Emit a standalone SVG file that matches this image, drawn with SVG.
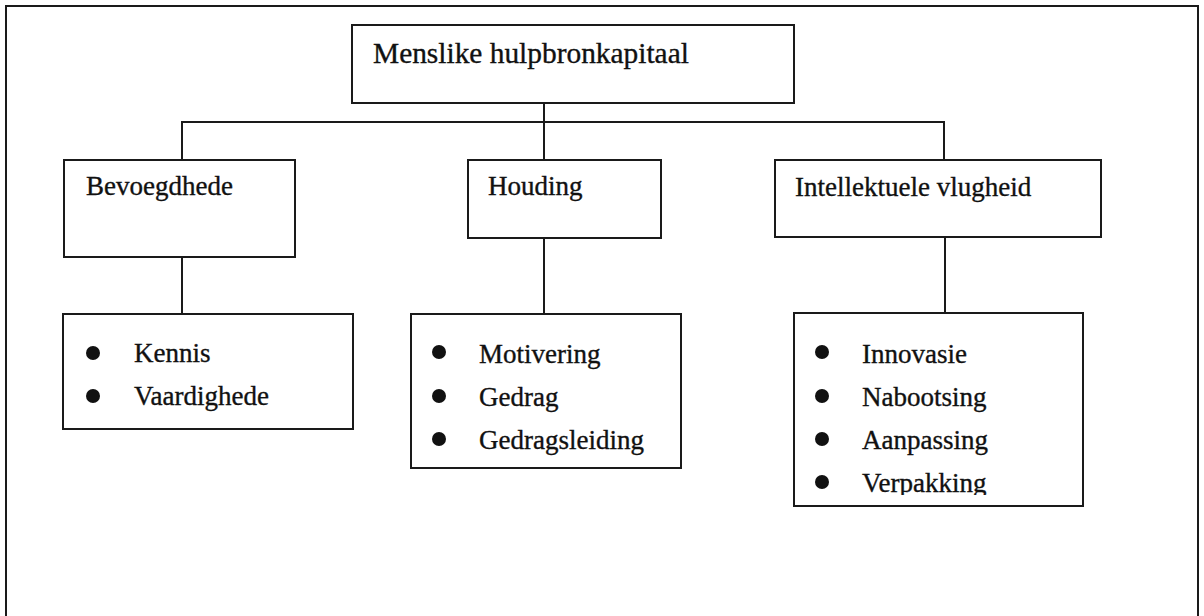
<svg xmlns="http://www.w3.org/2000/svg" width="1204" height="616" viewBox="0 0 1204 616">
  <style>
    .box { fill: #fff; stroke: #1a1a1a; stroke-width: 2; }
    .frame { fill: none; stroke: #1a1a1a; stroke-width: 2; }
    .link { fill: none; stroke: #1a1a1a; stroke-width: 2; }
    .lbl { font-family: "Liberation Serif", "Times New Roman", serif; font-size: 27px; fill: #111; stroke: #111; stroke-width: 0.35; }
    .title { font-family: "Liberation Serif", "Times New Roman", serif; font-size: 29.4px; fill: #111; stroke: #111; stroke-width: 0.35; }
    .dot { fill: #111; }
  </style>
  <defs>
    <clipPath id="clipList3">
      <rect x="795" y="314" width="287" height="181"/>
    </clipPath>
  </defs>
  <rect width="1204" height="616" fill="#fff"/>

  <!-- outer frame, open at the bottom -->
  <path class="frame" d="M6,616 V6 H1198 V616"/>

  <!-- connectors -->
  <g id="connectors">
    <path class="link" d="M544,103 V160"/>
    <path class="link" d="M182,160 V122 H944 V160"/>
    <path class="link" d="M182,257 V314"/>
    <path class="link" d="M544,238 V314"/>
    <path class="link" d="M945,237 V313"/>
  </g>

  <g id="root">
    <rect class="box" x="352" y="25" width="442" height="78"/>
    <text class="title" x="373" y="63">Menslike hulpbronkapitaal</text>
  </g>

  <g id="bevoegdhede">
    <rect class="box" x="64" y="160" width="231" height="97"/>
    <text class="lbl" x="86" y="195">Bevoegdhede</text>
  </g>

  <g id="houding">
    <rect class="box" x="468" y="160" width="193" height="78"/>
    <text class="lbl" x="488" y="195">Houding</text>
  </g>

  <g id="intellektuele-vlugheid">
    <rect class="box" x="775" y="160" width="326" height="77"/>
    <text class="lbl" x="795" y="196">Intellektuele vlugheid</text>
  </g>

  <g id="list-bevoegdhede">
    <rect class="box" x="63" y="314" width="290" height="115"/>
    <circle class="dot" cx="93" cy="353" r="7"/>
    <circle class="dot" cx="93" cy="396" r="7"/>
    <text class="lbl" x="134" y="362">Kennis</text>
    <text class="lbl" x="134" y="405">Vaardighede</text>
  </g>

  <g id="list-houding">
    <rect class="box" x="411" y="314" width="270" height="154"/>
    <circle class="dot" cx="439" cy="352" r="7"/>
    <circle class="dot" cx="439" cy="396" r="7"/>
    <circle class="dot" cx="439" cy="439" r="7"/>
    <text class="lbl" x="479" y="363">Motivering</text>
    <text class="lbl" x="479" y="406">Gedrag</text>
    <text class="lbl" x="479" y="449">Gedragsleiding</text>
  </g>

  <g id="list-intellektuele-vlugheid">
    <rect class="box" x="794" y="313" width="289" height="193"/>
    <circle class="dot" cx="822" cy="352" r="7"/>
    <circle class="dot" cx="822" cy="396" r="7"/>
    <circle class="dot" cx="822" cy="439" r="7"/>
    <circle class="dot" cx="822" cy="482" r="7"/>
    <g clip-path="url(#clipList3)">
      <text class="lbl" x="862" y="363">Innovasie</text>
      <text class="lbl" x="862" y="406">Nabootsing</text>
      <text class="lbl" x="862" y="449">Aanpassing</text>
      <text class="lbl" x="862" y="492">Verpakking</text>
    </g>
  </g>
</svg>
